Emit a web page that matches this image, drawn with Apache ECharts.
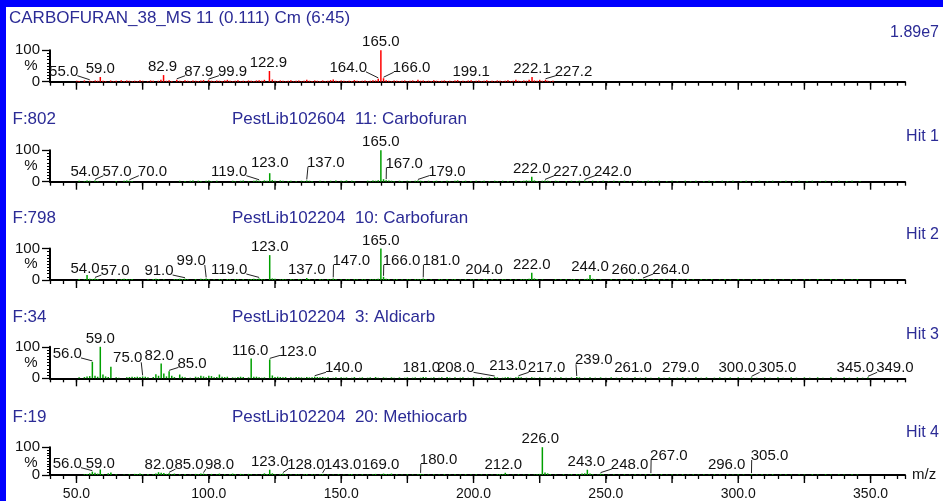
<!DOCTYPE html>
<html><head><meta charset="utf-8">
<script src="https://cdn.jsdelivr.net/npm/echarts@6/dist/echarts.min.js"></script>
<style>html,body{margin:0;padding:0;background:#fff}#c{width:943px;height:501px}</style>
</head><body><div id="c"></div><script>
// ---------------- DATA ----------------
const xTickLabels = [50, 100, 150, 200, 250, 300, 350];
const xMajorTicks = [50, 75, 100, 125, 150, 175, 200, 225, 250, 275, 300, 325, 350];
const headerLeft = ['CARBOFURAN_38_MS 11 (0.111) Cm (6:45)', 'F:802', 'F:798', 'F:34', 'F:19'];
const headerLib = ['', 'PestLib102604  11: Carbofuran', 'PestLib102204  10: Carbofuran', 'PestLib102204  3: Aldicarb', 'PestLib102204  20: Methiocarb'];
const headerRight = ['1.89e7', 'Hit 1', 'Hit 2', 'Hit 3', 'Hit 4'];
const yUnit = '%';

const p1Peaks = [[50.1,3],[51.0,2],[53.0,4],[55.0,3],[56.0,2],[57.1,4],[58.0,3],[59.0,15],[60.0,3],[61.0,2],[62.9,4],[64.0,2],[65.0,3],[66.9,5],[68.0,2],[69.0,4],[70.0,3],[71.1,2],[72.0,3],[73.0,2],[74.0,5],[75.0,3],[76.9,2],[78.0,4],[79.0,3],[80.9,3],[81.9,6],[82.9,21],[84.0,3],[85.0,5],[86.0,2],[87.9,6],[89.0,3],[90.0,2],[91.0,5],[92.0,3],[93.0,2],[94.0,4],[95.0,3],[96.0,2],[97.0,4],[98.0,5],[99.9,5],[101.0,3],[102.0,2],[103.0,4],[104.0,3],[105.0,2],[106.0,4],[107.0,6],[108.0,3],[109.0,2],[110.0,3],[111.0,5],[112.0,2],[113.0,3],[114.0,2],[115.0,4],[116.0,3],[117.0,2],[118.0,4],[119.0,5],[120.0,3],[121.0,6],[122.9,34],[124.0,7],[125.0,3],[126.0,2],[127.0,4],[128.0,3],[129.0,2],[130.0,3],[131.0,5],[132.0,2],[133.0,3],[134.0,4],[135.0,2],[136.0,3],[137.0,6],[138.0,3],[139.0,2],[140.0,4],[141.0,3],[142.0,2],[143.0,4],[144.0,2],[145.0,3],[146.0,5],[147.0,7],[148.0,3],[149.0,2],[150.0,4],[151.0,3],[152.0,2],[153.0,3],[154.0,2],[155.0,5],[156.0,3],[157.0,2],[158.0,3],[159.0,4],[160.0,2],[161.0,3],[162.0,5],[163.0,4],[164.0,9],[165.0,100],[166.0,11],[167.0,5],[168.0,3],[169.0,2],[170.0,4],[171.0,3],[172.0,2],[173.0,3],[174.0,4],[175.0,2],[176.0,3],[177.0,4],[178.0,2],[179.0,6],[180.0,3],[181.0,4],[182.0,2],[183.0,3],[184.0,2],[185.0,5],[186.0,3],[187.0,2],[188.0,3],[189.0,4],[190.0,2],[191.0,3],[192.0,2],[193.0,4],[194.0,5],[195.0,2],[196.0,3],[197.0,2],[198.0,4],[199.1,5],[200.0,2],[201.0,3],[202.0,4],[203.0,2],[204.0,3],[205.0,5],[206.0,2],[207.0,3],[208.0,2],[209.0,4],[210.0,3],[211.0,2],[212.0,3],[213.0,5],[214.0,2],[215.0,3],[216.0,6],[217.0,3],[218.0,2],[219.0,4],[220.0,3],[221.0,6],[222.1,15],[223.0,4],[224.0,3],[225.0,6],[226.0,3],[227.2,6],[228.0,3],[229.0,2],[230.0,3]];
const p1Labels = ['55.0','59.0','82.9','87.9','99.9','122.9','164.0','165.0','166.0','199.1','222.1','227.2'];

const p2Peaks = [[51,3],[53,2],[54,4],[55,3],[57,4],[58,2],[65,2],[68,3],[69,4],[70,3],[71,2],[89,3],[91,2],[93,3],[94,4],[96,3],[97,2],[99,3],[100,4],[101,2],[103,3],[109,3],[110,2],[112,3],[113,4],[115,2],[117,3],[118,4],[119,3],[120,2],[121,4],[122,3],[123,27],[124,5],[125,3],[127,4],[128,3],[130,2],[131,3],[133,2],[135,3],[136,2],[137,4],[138,3],[139,2],[142,3],[144,2],[146,3],[148,4],[150,3],[151,2],[152,4],[154,3],[155,2],[160,3],[161,2],[162,4],[163,3],[164,5],[165,100],[166,8],[167,5],[168,4],[169,3],[170,2],[172,3],[173,2],[175,3],[176,2],[178,3],[179,4],[180,3],[181,2],[183,3],[185,2],[186,3],[188,2],[190,3],[191,2],[193,3],[194,4],[196,2],[197,3],[199,2],[201,3],[203,2],[204,3],[206,2],[208,3],[209,2],[211,3],[213,2],[216,3],[218,2],[219,3],[220,4],[221,3],[222,16],[223,4],[224,2],[226,3],[227,4],[228,3],[229,2],[231,3],[232,2],[235,2],[237,3],[239,2],[240,3],[242,4],[243,2],[245,3],[247,2],[249,3],[251,2],[253,3],[255,2],[257,3],[259,2],[262,3],[264,2],[266,3],[268,2],[270,3],[273,2],[275,3],[277,2],[280,3],[282,2],[284,3],[287,2],[289,3],[291,2],[294,3],[296,2],[298,3],[301,2],[303,3],[306,2],[308,3],[311,2],[313,3],[316,2],[318,3],[321,2],[323,3],[326,2],[328,3],[331,2],[333,3],[336,2],[338,3],[341,2],[343,3],[346,2]];
const p2Labels = ['54.0','57.0','70.0','119.0','123.0','137.0','165.0','167.0','179.0','222.0','227.0','242.0'];

const p3Peaks = [[51,3],[53,2],[54,16],[55,4],[56,3],[57,5],[58,3],[65,2],[67,3],[68,4],[69,3],[70,2],[71,3],[77,2],[79,3],[80,4],[81,3],[83,2],[87,3],[88,2],[89,4],[90,3],[91,4],[92,2],[95,3],[97,4],[98,3],[99,5],[100,3],[102,2],[104,3],[105,2],[107,3],[108,2],[110,3],[111,2],[113,3],[115,2],[116,3],[117,4],[118,3],[119,5],[120,3],[121,2],[123,79],[124,5],[125,4],[127,2],[128,3],[129,2],[131,3],[132,2],[134,3],[135,2],[137,6],[138,3],[140,2],[142,3],[143,2],[145,3],[146,2],[147,5],[148,3],[150,2],[152,3],[153,2],[155,3],[156,2],[158,3],[159,2],[161,3],[162,2],[163,3],[164,4],[165,100],[166,10],[167,4],[168,3],[170,2],[171,3],[173,2],[175,3],[176,2],[178,3],[179,2],[180,3],[181,5],[182,3],[184,2],[187,3],[188,2],[190,3],[192,2],[193,3],[195,2],[197,3],[199,2],[200,3],[202,2],[204,3],[205,2],[207,3],[209,2],[211,3],[212,2],[214,3],[216,2],[218,3],[219,2],[220,3],[221,4],[222,23],[223,5],[224,3],[226,2],[231,3],[233,2],[235,3],[237,2],[238,3],[240,2],[242,3],[243,4],[244,16],[245,4],[246,3],[248,2],[252,3],[254,2],[256,3],[258,2],[260,4],[261,3],[262,2],[264,3],[266,2],[268,3],[270,2],[272,3],[274,2],[277,3],[279,2],[281,3],[283,2],[286,3],[288,2],[290,3],[293,2],[295,3],[297,2],[300,3],[302,2],[305,3],[307,2],[309,3],[312,2],[314,3],[317,2],[320,3],[322,2],[325,3],[327,2],[330,3],[332,2],[335,3],[337,2],[340,3],[343,2],[345,3]];
const p3Labels = ['54.0','57.0','91.0','99.0','119.0','123.0','137.0','147.0','165.0','166.0','181.0','204.0','222.0','244.0','260.0','264.0'];

const p4Peaks = [[51,3],[53,4],[54,6],[55,7],[56,52],[57,8],[58,5],[59,100],[60,12],[61,6],[62,4],[63,37],[65,3],[66,2],[69,3],[70,4],[71,5],[72,4],[73,5],[74,4],[75,6],[76,5],[77,3],[79,4],[80,13],[81,8],[82,47],[83,15],[84,6],[85,22],[86,8],[87,4],[89,12],[90,5],[91,3],[93,2],[95,5],[96,3],[97,8],[98,6],[99,3],[100,8],[101,7],[102,3],[103,4],[104,12],[105,5],[106,4],[107,5],[109,3],[110,2],[111,4],[112,5],[113,4],[115,3],[116,63],[117,5],[118,5],[119,3],[120,2],[121,3],[123,60],[124,9],[125,4],[126,5],[127,4],[128,3],[129,4],[131,3],[132,2],[133,4],[134,3],[135,3],[136,2],[137,4],[138,3],[139,3],[140,5],[141,4],[142,3],[143,4],[144,2],[145,3],[147,2],[148,3],[150,3],[151,2],[152,3],[154,2],[155,4],[157,2],[158,3],[160,2],[161,3],[163,4],[164,2],[166,3],[167,2],[169,3],[170,2],[172,3],[174,2],[175,3],[177,2],[178,3],[180,2],[181,4],[182,3],[184,2],[185,3],[187,2],[188,3],[190,4],[191,2],[193,3],[195,2],[196,3],[198,2],[200,3],[201,2],[203,3],[205,2],[206,3],[208,4],[209,3],[211,2],[212,3],[213,4],[214,2],[216,3],[217,5],[218,3],[220,2],[222,3],[223,2],[225,3],[227,2],[229,3],[231,2],[233,3],[235,2],[237,3],[239,4],[240,3],[242,2],[244,3],[246,2],[248,3],[250,2],[252,3],[254,2],[256,3],[258,2],[261,3],[263,2],[265,3],[267,2],[270,3],[272,2],[274,3],[277,2],[279,3],[281,2],[284,3],[286,2],[288,3],[291,2],[293,3],[295,2],[297,3],[300,3],[302,2],[305,3],[307,2],[310,3],[312,2],[315,3],[317,2],[320,3],[322,2],[325,3],[327,2],[330,3],[332,2],[335,3],[337,2],[340,3],[342,2],[345,3],[347,2],[349,3]];
const p4Labels = ['56.0','59.0','75.0','82.0','85.0','116.0','123.0','140.0','181.0','208.0','213.0','217.0','239.0','261.0','279.0','300.0','305.0','345.0','349.0'];

const p5Peaks = [[53,3],[54,4],[55,6],[56,12],[57,8],[58,5],[59,20],[60,4],[62,6],[63,9],[65,3],[68,2],[70,3],[72,4],[73,3],[74,5],[75,3],[77,4],[79,3],[80,5],[81,10],[82,8],[83,7],[84,4],[85,6],[86,3],[87,5],[89,3],[91,4],[93,2],[95,4],[96,3],[97,5],[98,5],[99,3],[101,4],[103,3],[104,5],[106,3],[108,4],[109,5],[110,3],[112,4],[113,3],[115,4],[116,3],[118,2],[120,3],[121,6],[122,4],[123,19],[124,6],[125,3],[127,4],[128,5],[129,3],[131,2],[133,3],[134,2],[136,3],[137,4],[139,3],[140,2],[142,3],[143,4],[145,3],[147,2],[149,3],[151,2],[153,3],[154,4],[156,2],[158,3],[160,2],[162,3],[163,4],[165,3],[166,5],[167,4],[168,3],[169,5],[171,3],[173,2],[175,3],[177,2],[179,3],[180,4],[181,3],[183,2],[185,3],[187,2],[189,3],[191,2],[193,3],[195,2],[197,3],[199,2],[201,3],[203,2],[205,3],[207,2],[209,3],[210,4],[211,3],[212,8],[213,3],[215,2],[217,3],[219,2],[221,3],[223,2],[224,3],[225,4],[226,100],[227,9],[228,6],[229,3],[231,2],[234,3],[236,2],[237,3],[239,4],[240,3],[241,5],[242,6],[243,19],[244,5],[245,3],[247,2],[248,5],[249,3],[251,2],[253,3],[255,2],[257,3],[259,2],[261,3],[263,2],[265,3],[267,3],[269,2],[271,3],[273,2],[275,3],[277,2],[279,3],[281,2],[283,3],[285,2],[287,3],[289,2],[291,3],[293,2],[296,3],[298,2],[300,3],[302,2],[305,3],[307,2],[309,3],[311,2],[313,3],[316,2],[318,3],[320,2],[323,3],[325,2],[328,3],[330,2],[333,3],[335,2],[338,3],[340,2],[343,3],[345,2]];
const p5Labels = ['56.0','59.0','82.0','85.0','98.0','123.0','128.0','143.0','169.0','180.0','212.0','226.0','243.0','248.0','267.0','296.0','305.0'];

// ---------------- LAYOUT / STYLE ----------------
// label placement: [dx px from peak, dy px extra vertical shift]
const labelLayouts = [
  {'55.0':[-26,0],'82.9':[-1,0],'87.9':[22,0],'99.9':[24,0],'122.9':[-1,0],'164.0':[-30,-3],'166.0':[28,-2],'227.2':[28,0]},
  {'54.0':[-2,0],'57.0':[22,0],'70.0':[23,0],'119.0':[-30,0],'123.0':[0,-2],'137.0':[19,-9],'167.0':[18,-8],'179.0':[29,0],'227.0':[27,0],'242.0':[28,0]},
  {'54.0':[-2,2],'57.0':[20,1],'91.0':[-26,1],'99.0':[-15,-9],'119.0':[-30,0],'147.0':[18,-9],'166.0':[18,-8],'181.0':[18,-9],'260.0':[-2,0],'264.0':[28,0]},
  {'56.0':[-25,0],'75.0':[-15,-10],'82.0':[-2,0],'85.0':[23,0],'116.0':[-1,0],'123.0':[28,0],'140.0':[29,0],'181.0':[-2,0],'208.0':[-39,0],'213.0':[0,-2],'217.0':[28,0],'239.0':[17,-8],'261.0':[-2,0],'279.0':[-2,0],'300.0':[-1,0],'305.0':[26,0],'345.0':[-2,0],'349.0':[27,0]},
  {'56.0':[-25,0],'59.0':[0,2],'82.0':[-2,0],'85.0':[20,0],'98.0':[16,0],'128.0':[23,0],'143.0':[20,0],'169.0':[-11,0],'180.0':[18,-5],'212.0':[-2,0],'226.0':[-2,0],'243.0':[-1,0],'248.0':[29,0],'267.0':[18,-9],'296.0':[-1,0],'305.0':[18,-9]}
];
const panels = [
  {peaks:p1Peaks, labels:p1Labels, color:'#ff0000'},
  {peaks:p2Peaks, labels:p2Labels, color:'#00a000'},
  {peaks:p3Peaks, labels:p3Labels, color:'#00a000'},
  {peaks:p4Peaks, labels:p4Labels, color:'#00a000'},
  {peaks:p5Peaks, labels:p5Labels, color:'#00a000'}
];
const axisBottoms = [81.7, 181.7, 280, 378.3, 478.7];
const PLOT_H = 31.5;
const GRID_LEFT = 50;
const FONT = '"Liberation Sans", Arial, sans-serif';
const LABEL_FONT = '15px ' + FONT;
const HEAD_FONT = '17px ' + FONT;
const HEAD_COLOR = '#2b2b96';
const headerY = [18, 119, 218, 317, 417];
const rightY = [33, 137, 235, 335, 433];

const mctx = document.createElement('canvas').getContext('2d');
mctx.font = LABEL_FONT;
function textW(t){ return mctx.measureText(t).width; }

function makeLabelRender(labels, layout){
  return function(params, api){
    const t = labels[params.dataIndex];
    const top = api.coord([api.value(0), api.value(1)]);
    const base = api.coord([api.value(0), 0]);
    const lay = layout[t] || [0,0];
    const dx = lay[0], dy = lay[1];
    const w = textW(t);
    const cx = top[0] + dx;
    const cy = Math.min(top[1] - 8, base[1] - 10) + dy;
    const children = [{type:'text', style:{text:t, x:cx, y:cy, align:'center', verticalAlign:'middle', textAlign:'center', textVerticalAlign:'middle', font:LABEL_FONT, fill:'#111'}}];
    if (Math.abs(dx) >= 12) {
      const ex = dx > 0 ? cx - w/2 + 1 : cx + w/2 - 1;
      children.push({type:'line', shape:{x1:top[0], y1:top[1]-1, x2:ex, y2:cy+4}, style:{stroke:'#222', lineWidth:1}});
    }
    return {type:'group', children};
  };
}
function renderMajorTick(params, api){
  const p = api.coord([api.value(0), 0]);
  return {type:'line', shape:{x1:p[0], y1:p[1], x2:p[0], y2:p[1]+8}, style:{stroke:'#000', lineWidth:1.4}};
}

const grids = [], xAxes = [], yAxes = [], series = [], graphics = [];
panels.forEach((pn, i) => {
  grids.push({left:GRID_LEFT, right:38, top:axisBottoms[i]-PLOT_H, height:PLOT_H});
  xAxes.push({
    type:'value', gridIndex:i, min:40, max:363, interval:5,
    axisLine:{show:true, onZero:false, lineStyle:{color:'#000', width:2}},
    axisTick:{show:true, length:4, lineStyle:{color:'#000', width:1.3}},
    axisLabel:{show:i===4, margin:12, fontSize:14, fontFamily:FONT, color:'#111',
      formatter:v => xTickLabels.some(t => Math.abs(t - v) < 1e-6) ? v.toFixed(1) : ''},
    splitLine:{show:false},
    name: i===4 ? 'm/z' : '', nameLocation:'end', nameGap:7,
    nameTextStyle:{fontSize:15, fontFamily:FONT, color:'#111'}
  });
  yAxes.push({
    type:'value', gridIndex:i, min:0, max:100, interval:100,
    axisLine:{show:true, lineStyle:{color:'#000', width:2}},
    axisTick:{show:true, length:8, lineStyle:{color:'#000', width:1.3}},
    minorTick:{show:true, splitNumber:10, length:3, lineStyle:{color:'#000', width:1}},
    axisLabel:{margin:10, fontSize:15, fontFamily:FONT, color:'#111'},
    splitLine:{show:false}, minorSplitLine:{show:false}
  });
  series.push({
    type:'bar', xAxisIndex:i, yAxisIndex:i, data:pn.peaks, barWidth:1.5,
    itemStyle:{color:pn.color}, silent:true
  });
  const labelData = pn.labels.map(t => {
    const mz = parseFloat(t);
    const pk = pn.peaks.find(p => Math.abs(p[0] - mz) < 0.05);
    return [mz, pk ? pk[1] : 0];
  });
  series.push({
    type:'custom', xAxisIndex:i, yAxisIndex:i, data:labelData, clip:false, silent:true,
    renderItem:makeLabelRender(pn.labels, labelLayouts[i]), z:5
  });
  series.push({
    type:'custom', xAxisIndex:i, yAxisIndex:i, data:xMajorTicks.map(v => [v]), clip:false, silent:true,
    renderItem:renderMajorTick, z:5
  });
  graphics.push({type:'text', style:{text:headerLeft[i], x: i===0 ? 9 : 12.5, y:headerY[i], font:HEAD_FONT, fill:HEAD_COLOR, align:'left', verticalAlign:'middle', textAlign:'left', textVerticalAlign:'middle'}});
  if (headerLib[i]) graphics.push({type:'text', style:{text:headerLib[i], x:232, y:headerY[i], font:HEAD_FONT, fill:HEAD_COLOR, align:'left', verticalAlign:'middle', textAlign:'left', textVerticalAlign:'middle'}});
  graphics.push({type:'text', style:{text:headerRight[i], x:939, y:rightY[i], font:'16px ' + FONT, fill:HEAD_COLOR, align:'right', verticalAlign:'middle', textAlign:'right', textVerticalAlign:'middle'}});
  // y-axis unit symbol, centred on the axis height
  graphics.push({type:'text', style:{text:yUnit, x:GRID_LEFT - 19, y:axisBottoms[i] - PLOT_H/2, font:'15px ' + FONT, fill:'#111', align:'center', verticalAlign:'middle', textAlign:'center', textVerticalAlign:'middle'}});
});
graphics.push({type:'rect', shape:{x:0, y:0, width:943, height:7}, style:{fill:'#0000ff'}, z:100});
graphics.push({type:'rect', shape:{x:0, y:0, width:6, height:501}, style:{fill:'#0000ff'}, z:100});

const chart = echarts.init(document.getElementById('c'), null, {renderer:'canvas'});
chart.setOption({
  animation:false, backgroundColor:'#ffffff',
  grid:grids, xAxis:xAxes, yAxis:yAxes, series:series, graphic:graphics
});
</script></body></html>
